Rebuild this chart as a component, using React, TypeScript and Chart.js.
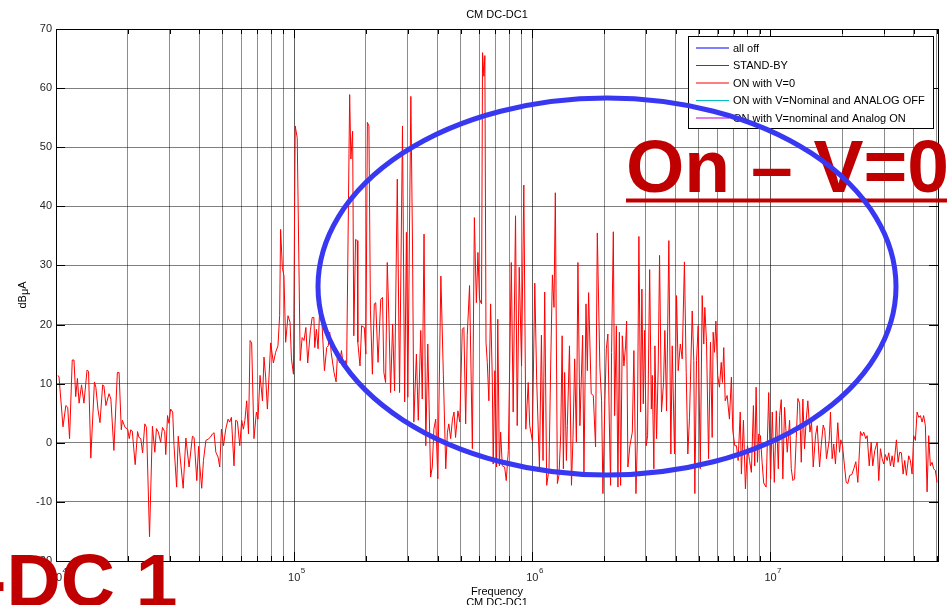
import React, { useEffect, useRef } from "react";
import { Chart, registerables } from "chart.js";

Chart.register(...registerables);

// Frequency of each measured point, in kHz
const freqKHz = [
  10.2, 10.3, 10.7, 11.0, 11.2, 11.4, 11.7, 11.9, 12.1, 12.3, 12.5, 12.8, 13.1, 13.5, 13.7, 14.0, 14.5, 14.7, 15.0, 15.3,
  15.7, 15.9, 16.2, 16.7, 17.0, 17.5, 18.1, 18.4, 18.8, 19.0, 19.5, 20.0, 20.3, 20.6, 20.9, 21.5, 22.0, 22.3, 22.7, 23.1,
  23.6, 24.0, 24.7, 25.4, 26.0, 26.4, 26.9, 27.5, 28.0, 28.6, 28.9, 29.4, 29.8, 30.3, 30.9, 31.3, 32.1, 32.6, 33.2, 34.2,
  35.1, 36.2, 37.4, 38.0, 39.0, 39.7, 40.1, 40.9, 41.6, 42.6, 43.5, 44.4, 45.4, 46.1, 46.9, 47.9, 48.7, 49.5, 50.5, 51.6,
  52.8, 53.6, 54.5, 55.9, 56.8, 57.8, 59.1, 60.2, 61.2, 62.1, 63.2, 64.3, 65.3, 66.3, 67.8, 69.4, 70.5, 71.9, 73.6, 74.7,
  75.9, 77.2, 79.7, 81.8, 83.6, 85.5, 86.9, 87.7, 89.2, 90.6, 92.1, 94.2, 96.1, 97.4, 99.3,
  101, 103, 106, 108, 110, 112, 114, 117, 119, 121, 122, 124, 126, 128, 131, 134, 137, 139, 141, 143,
  147, 150, 152, 155, 158, 161, 164, 166, 171, 173, 176, 178, 181, 184, 185, 189, 192, 197, 200, 203,
  206, 209, 213, 217, 220, 225, 231, 235, 238, 242, 246, 250, 254, 259, 264, 271, 277, 285, 291, 296,
  300, 309, 314, 318, 326, 332, 340, 345, 351, 357, 364, 374, 380, 386, 393, 401, 413, 423, 433, 440,
  446, 454, 462, 469, 476, 487, 496, 508, 516, 525, 533, 545, 560, 571, 582, 591, 600, 612, 618, 626,
  632, 639, 647, 657, 668, 679, 685, 696, 708, 716, 727, 736, 748, 765, 777, 793, 816, 831, 850, 864,
  881, 901, 921, 939, 961, 975, 1000,
  1024, 1043, 1071, 1092, 1109, 1127, 1149, 1175, 1194, 1214, 1233, 1249, 1274, 1294, 1316, 1334, 1350, 1367, 1390, 1403,
  1432, 1460, 1481, 1506, 1531, 1554, 1584, 1626, 1647, 1680, 1702, 1723, 1767, 1803, 1843, 1874, 1921, 1953, 1979, 2017,
  2045, 2076, 2105, 2131, 2151, 2188, 2216, 2253, 2288, 2320, 2348, 2386, 2424, 2463, 2488, 2519, 2568, 2629, 2669, 2723,
  2759, 2802, 2848, 2884, 2923, 2960, 3009, 3048, 3109, 3160, 3188, 3238, 3271, 3324, 3378, 3421, 3486, 3556, 3601, 3661,
  3743, 3816, 3867, 3954, 4032, 4097, 4182, 4259, 4351, 4427, 4496, 4570, 4691, 4763, 4812, 4891, 4970, 5073, 5166, 5246,
  5300, 5387, 5495, 5598, 5690, 5745, 5818, 5897, 6003, 6105, 6210, 6285, 6364, 6453, 6576, 6723, 6852, 6943, 7078, 7196,
  7313, 7464, 7547, 7697, 7848, 8004, 8164, 8312, 8477, 8585, 8702, 8815, 8923, 9070, 9220, 9363, 9584, 9828,
  10010, 10175, 10374, 10577, 10783, 10920, 11096, 11269, 11456, 11759, 12028, 12225, 12416, 12621, 12823, 13028, 13252, 13464, 13674, 13895,
  14131, 14348, 14638, 14867, 15114, 15453, 15710, 16071, 16326, 16646, 16908, 17182, 17634, 17858, 18152, 18430, 18740, 19167, 19490, 19729,
  20055, 20446, 20784, 21104, 21510, 21944, 22373, 22819, 23261, 23864, 24258, 24627, 25127, 25461, 25974, 26465, 26877, 27408, 28046, 28482,
  28949, 29426, 29886, 30380, 30887, 31369, 31882, 32407, 32914, 33782, 34334, 34856, 35455, 36045, 36613, 37206, 38047, 38669, 39306, 39920,
  40581, 41257, 41898, 42593, 43295, 43955, 44699, 45444, 46150, 46911, 47680, 48425, 49226, 50045,
];

// "ON with V=0" level at each frequency, in dBµA
const dBuA = [
  11.4, 11.1, 2.7, 6.3, 6.0, 0.7, 14.0, 14.0, 7.8, 10.9, 6.7, 9.8, 6.7, 12.3, 12.1, -2.6, 10.3, 9.4, 5.7, 3.4,
  9.8, 9.6, 6.3, 8.3, 7.4, -1.3, 11.9, 11.9, 2.2, 3.8, 2.6, 2.3, 0.7, 2.2, 2.0, -3.7, 1.9, 0.9, 0.7, -1.7,
  3.2, 2.6, -15.9, 2.8, -1.6, 2.4, 1.8, 0.1, 2.6, 1.9, -2.0, 4.6, 3.3, 5.7, 5.2, -0.5, -7.5, 1.1, -2.4, -7.7,
  0.8, -4.1, 1.1, 0.9, -6.4, -0.6, -3.6, -7.7, -3.0, 0.4, 0.6, 0.9, 1.5, 1.7, -1.6, -2.4, -4.1, 2.3, -0.5, 2.3,
  4.0, 3.5, 4.3, -3.9, 3.8, 3.6, -0.5, 3.8, 2.3, 3.8, 7.1, 1.5, 17.3, 16.9, 0.7, 5.2, 4.0, 11.4, 7.1, 14.5,
  11.1, 5.7, 16.9, 13.5, 15.3, 16.4, 21.5, 36.1, 29.7, 28.2, 17.0, 21.5, 20.4, 14.2, 11.6,
  53.6, 51.6, 13.9, 17.8, 17.3, 19.5, 13.5, 19.0, 21.2, 21.2, 16.1, 19.2, 15.9, 22.6, 19.8, 12.2, 16.1, 16.4, 18.7, 15.3,
  11.9, 10.3, 15.0, 13.5, 15.6, 12.8, 13.9, 12.2, 58.9, 48.0, 52.7, 18.1, 34.4, 34.2, 17.0, 13.0, 19.8, 19.5, 15.0, 54.2,
  53.6, 22.6, 11.6, 23.5, 23.7, 13.6, 24.3, 24.6, 11.9, 10.2, 30.5, 20.9, 8.5, 20.1, 8.8, 44.6, 8.5, 53.6, 6.9, 35.6,
  7.7, 58.6, 33.3, 3.5, 15.0, 3.8, 19.0, 7.4, 35.3, -0.5, 16.7, -5.8, -4.1, 2.3, 4.0, -6.1, 28.2, 11.6, -4.4, 1.8,
  3.2, 0.7, 4.0, 5.2, 0.9, 5.4, 3.5, 19.2, 19.5, 3.2, 18.1, 26.6, -1.0, 38.1, 23.7, 32.2, 24.3, 23.5, 66.0, 62.0,
  65.5, 17.0, 13.6, 7.1, 23.5, 10.8, -3.6, 12.2, -4.1, 20.9, -3.9, 1.8, -3.9, -4.1, -6.4, -1.3, 30.5, 5.2, 38.4, 2.9,
  29.7, 13.0, 43.6, 2.3, 10.2, 2.9, 0.4,
  27.0, 10.5, -4.1, 18.2, -3.0, 25.5, -7.2, -4.4, 13.0, 28.4, 22.9, 42.3, -6.9, -5.5, 1.5, 18.1, -4.4, 11.9, -3.0, 2.9,
  16.4, -7.2, 0.7, 14.2, 0.1, 30.5, 2.9, 18.2, -5.3, 23.5, 12.2, 25.4, 8.3, 8.0, -0.7, 35.5, 12.8, 7.1, -8.6, 7.1,
  15.9, 18.4, 3.5, -7.2, 15.3, 35.7, 4.6, 19.8, -7.5, 18.7, -7.2, 18.1, 13.0, 16.4, 20.6, -4.1, -0.5, 1.8, 15.6, -8.6,
  0.1, 34.9, 5.2, 26.0, 6.6, 19.0, -0.5, 1.2, 29.3, 5.7, 11.4, -4.4, 16.4, 0.7, 13.0, 31.7, 5.2, 10.2, 19.0, 5.4,
  34.2, -1.9, 16.4, -1.9, 24.9, 12.2, 16.7, 14.2, 30.6, 11.9, -1.9, 4.3, 22.3, 13.9, -8.6, 13.9, 19.8, -4.4, 24.9, 16.7,
  22.9, 17.1, -2.7, 17.0, 0.9, 18.7, 15.3, 20.6, 11.4, 9.4, 13.6, 10.2, 16.1, 7.1, 8.0, 4.0, 11.1, 2.1, -0.5, -0.5,
  -3.0, 5.2, -5.3, 3.8, -7.8, -0.5, -3.0, -5.0, 6.3, -3.9, 9.4, -3.3, 1.5, 1.2, -3.3, -6.8, -7.5, 8.5,
  -6.1, 5.2, -6.7, 5.4, -4.4, 4.6, 7.3, -6.1, 6.0, -1.6, 3.8, -4.4, -6.4, -6.1, 0.7, 7.5, 6.7, -3.3, 7.4, -1.0,
  4.0, 7.1, 1.8, 3.5, -4.1, 1.2, 2.9, -4.1, -0.5, 3.0, 2.1, -2.7, 0.4, 5.2, -2.7, -0.2, -3.6, 3.4, -1.6, 0.5,
  -0.4, -3.9, -6.7, -6.9, -5.5, -5.4, -4.4, -3.2, -6.7, 1.9, 1.2, 1.8, 0.7, 1.2, -3.9, 0.1, -3.9, -1.3, 0.1, -6.4,
  -1.0, -2.7, -3.6, -2.0, -3.0, -1.7, -3.9, -2.2, -4.1, 0.5, -3.3, -1.6, -1.7, -5.3, -3.0, -5.5, -2.2, -3.0, -5.3, 1.2,
  0.4, 5.2, 4.3, 4.6, 3.5, 4.6, 2.9, -8.3, 1.2, -3.9, -3.3, -4.4, -4.7, -6.7,
];

const seriesNames = [
  "all off",
  "STAND-BY",
  "ON with V=0",
  "ON with V=Nominal and ANALOG OFF",
  "ON with V=nominal and Analog ON",
];
const seriesColors = ["#0000ff", "#008000", "#ff0000", "#00bfbf", "#bf00bf"];
const plottedSeries = 2;

const decadeExponents = [4, 5, 6, 7];
const decadeMantissas = [1, 2, 3, 4, 5, 6, 7, 8, 9];
const xMin = 1e4;
const xMax = 5.05e7;
const yMin = -20;
const yMax = 70;
const yStep = 10;

const chartTitle = "CM DC-DC1";
const xAxisTitle = "Frequency";
const xAxisSubtitle = "CM DC-DC1";
const yAxisTitleParts = ["dB", "\u03bc", "A"];
const highlightLabel = "On \u2013 V=0";
const cornerLabel = "DC-DC 1";

const FONT = "'Liberation Sans', Arial, Helvetica, sans-serif";

const overlayPlugin = {
  id: "matlabOverlay",
  afterDraw(chart: any) {
    const ctx: CanvasRenderingContext2D = chart.ctx;
    const { left, right, top, bottom } = chart.chartArea;
    const xs = chart.scales.x;
    const ys = chart.scales.y;
    ctx.save();

    // axes box
    ctx.strokeStyle = "#000";
    ctx.lineWidth = 1;
    ctx.strokeRect(Math.round(left) + 0.5, Math.round(top) + 0.5, Math.round(right - left), Math.round(bottom - top));

    // tick marks (inward)
    ctx.beginPath();
    xs.ticks.forEach((t: any) => {
      const lg = Math.log10(t.value);
      const major = Math.abs(lg - Math.round(lg)) < 1e-9;
      const len = major ? 9 : 5;
      const px = Math.round(xs.getPixelForValue(t.value)) + 0.5;
      ctx.moveTo(px, bottom);
      ctx.lineTo(px, bottom - len);
      ctx.moveTo(px, top);
      ctx.lineTo(px, top + len);
    });
    ys.ticks.forEach((t: any) => {
      const py = Math.round(ys.getPixelForValue(t.value)) + 0.5;
      ctx.moveTo(left, py);
      ctx.lineTo(left + 9, py);
      ctx.moveTo(right, py);
      ctx.lineTo(right - 9, py);
    });
    ctx.stroke();

    // x tick labels 10^n
    ctx.fillStyle = "#262626";
    ctx.textBaseline = "alphabetic";
    decadeExponents.forEach((e) => {
      const px = xs.getPixelForValue(Math.pow(10, e));
      ctx.font = `11px ${FONT}`;
      ctx.textAlign = "center";
      ctx.fillText("10", px, 581);
      const w = ctx.measureText("10").width;
      ctx.font = `8px ${FONT}`;
      ctx.textAlign = "left";
      ctx.fillText(String(e), px + w / 2 + 0.5, 573);
    });

    // titles
    const cx = (left + right) / 2;
    ctx.font = `11px ${FONT}`;
    ctx.textAlign = "center";
    ctx.fillStyle = "#000";
    ctx.fillText(chartTitle, cx, 18);
    ctx.fillText(xAxisTitle, cx, 595);
    ctx.fillText(xAxisSubtitle, cx, 605.5);

    // y axis title
    ctx.save();
    ctx.translate(26, (top + bottom) / 2);
    ctx.rotate(-Math.PI / 2);
    ctx.font = `11px ${FONT}`;
    const widths = yAxisTitleParts.map((p) => ctx.measureText(p).width);
    const total = widths.reduce((a, b) => a + b, 0);
    let tx = -total / 2;
    ctx.textAlign = "left";
    yAxisTitleParts.forEach((p, i) => {
      ctx.fillText(p, tx, i === 1 ? 2 : 0);
      tx += widths[i];
    });
    ctx.restore();

    // legend
    const lx = 688, ly = 36, lw = 245, lh = 92;
    ctx.fillStyle = "#fff";
    ctx.fillRect(lx, ly, lw, lh);
    ctx.strokeStyle = "#000";
    ctx.lineWidth = 1;
    ctx.strokeRect(lx + 0.5, ly + 0.5, lw, lh);
    ctx.font = `11px ${FONT}`;
    ctx.textBaseline = "middle";
    ctx.textAlign = "left";
    seriesNames.forEach((name, i) => {
      const yy = 48 + i * 17.5;
      ctx.strokeStyle = seriesColors[i];
      ctx.lineWidth = 1.2;
      ctx.beginPath();
      ctx.moveTo(696, yy);
      ctx.lineTo(729, yy);
      ctx.stroke();
      ctx.fillStyle = "#000";
      ctx.fillText(name, 733, yy + 0.5);
    });

    // big annotation texts
    ctx.fillStyle = "#c00000";
    ctx.textBaseline = "alphabetic";
    ctx.font = `bold 75px ${FONT}`;
    ctx.textAlign = "left";
    ctx.fillText(highlightLabel, 626, 192);
    ctx.fillRect(626, 198.5, 947 - 626, 4);
    const pre = ctx.measureText(cornerLabel.slice(0, 3)).width;
    ctx.fillText(cornerLabel, 6.5 - pre, 606);

    // ellipse highlight
    ctx.strokeStyle = "#3838f2";
    ctx.lineWidth = 5;
    ctx.beginPath();
    ctx.ellipse(607, 286.5, 289, 188.5, 0, 0, Math.PI * 2);
    ctx.stroke();

    ctx.restore();
  },
};

export default function App() {
  const canvasRef = useRef<HTMLCanvasElement | null>(null);

  useEffect(() => {
    if (!canvasRef.current) return;
    const points = freqKHz.map((f, i) => ({ x: f * 1000, y: dBuA[i] }));
    const tickValues: number[] = [];
    decadeExponents.forEach((e) =>
      decadeMantissas.forEach((m) => {
        const v = m * Math.pow(10, e);
        if (v >= xMin && v <= xMax) tickValues.push(v);
      })
    );

    const chart = new Chart(canvasRef.current, {
      type: "line",
      data: {
        datasets: seriesNames.map((name, i) => ({
          label: name,
          data: i === plottedSeries ? points : [],
          borderColor: seriesColors[i],
          backgroundColor: seriesColors[i],
          borderWidth: 1,
          pointRadius: 0,
          tension: 0,
          fill: false,
        })),
      },
      options: {
        animation: false,
        responsive: false,
        devicePixelRatio: 1,
        layout: { padding: { left: 0, right: 9, top: 29, bottom: 0 } },
        plugins: {
          legend: { display: false },
          title: { display: false },
          tooltip: { enabled: false },
        },
        scales: {
          x: {
            type: "logarithmic",
            min: xMin,
            max: xMax,
            afterBuildTicks: (scale: any) => {
              scale.ticks = tickValues.map((v) => ({ value: v }));
            },
            afterFit: (scale: any) => {
              scale.height = 44;
            },
            ticks: { display: false },
            border: { display: false },
            grid: {
              drawTicks: false,
              lineWidth: 1,
              color: (c: any) => {
                const v = c.tick ? c.tick.value : 1;
                const lg = Math.log10(v);
                return Math.abs(lg - Math.round(lg)) < 1e-9 ? "rgba(0,0,0,0.62)" : "rgba(0,0,0,0.45)";
              },
            },
          },
          y: {
            type: "linear",
            min: yMin,
            max: yMax,
            afterFit: (scale: any) => {
              scale.width = 56;
            },
            ticks: {
              stepSize: yStep,
              padding: 4,
              color: "#262626",
              font: { family: FONT, size: 11 },
            },
            border: { display: false },
            grid: { drawTicks: false, lineWidth: 1, color: "rgba(0,0,0,0.5)" },
          },
        },
      } as any,
      plugins: [overlayPlugin],
    });
    return () => chart.destroy();
  }, []);

  return (
    <div style={{ position: "fixed", left: 0, top: 0, width: 947, height: 605, background: "#fff" }}>
      <canvas ref={canvasRef} width={947} height={605} style={{ display: "block" }} />
    </div>
  );
}
